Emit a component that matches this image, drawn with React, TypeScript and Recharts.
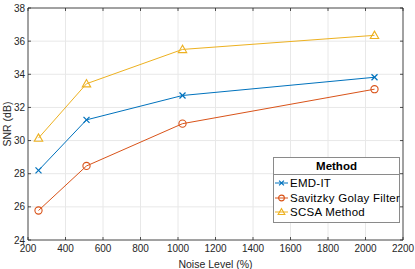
import React from "react";
import {
  LineChart,
  Line,
  XAxis,
  YAxis,
  CartesianGrid,
  ReferenceArea,
  Label,
} from "recharts";

// noise levels (%) and SNR (dB) per method
const noiseLevels = [256, 512, 1024, 2048];
const emdIt = [28.2, 31.25, 32.72, 33.82];
const savitzkyGolay = [25.78, 28.47, 31.02, 33.1];
const scsa = [30.15, 33.43, 35.5, 36.35];

const xTicks = [200, 400, 600, 800, 1000, 1200, 1400, 1600, 1800, 2000, 2200];
const yTicks = [24, 26, 28, 30, 32, 34, 36, 38];

const BLUE = "#0072BD";
const ORANGE = "#D95319";
const YELLOW = "#EDB120";
const AXIS = "#262626";
const FONT = "'Liberation Sans', Arial, Helvetica, sans-serif";

const PLOT_W = 375;
const PLOT_H = 232;

const data = noiseLevels.map((n, i) => ({
  noise: n,
  emd: emdIt[i],
  sg: savitzkyGolay[i],
  scsa: scsa[i],
}));

const series = [
  { key: "emd", name: "EMD-IT", color: BLUE, marker: "x" },
  { key: "sg", name: "Savitzky Golay Filter", color: ORANGE, marker: "o" },
  { key: "scsa", name: "SCSA Method", color: YELLOW, marker: "^" },
];

function Marker({ cx, cy, type, color, small }: any) {
  if (cx == null || cy == null) return null;
  const k = small ? 0.8 : 1;
  if (type === "x") {
    const s = 3 * k;
    return (
      <g stroke={color} strokeWidth={1.2}>
        <line x1={cx - s} y1={cy - s} x2={cx + s} y2={cy + s} />
        <line x1={cx - s} y1={cy + s} x2={cx + s} y2={cy - s} />
      </g>
    );
  }
  if (type === "o") {
    return <circle cx={cx} cy={cy} r={3.6 * k} fill="none" stroke={color} strokeWidth={1.1} />;
  }
  const s = 4.2 * k;
  return (
    <polygon
      points={`${cx},${cy - s} ${cx - s},${cy + s * 0.75} ${cx + s},${cy + s * 0.75}`}
      fill="none"
      stroke={color}
      strokeWidth={1.1}
    />
  );
}

function XTick({ x, y, payload }: any) {
  return (
    <g>
      <line x1={x} y1={y} x2={x} y2={y - 3} stroke={AXIS} strokeWidth={0.8} />
      <line x1={x} y1={y - PLOT_H} x2={x} y2={y - PLOT_H + 3} stroke={AXIS} strokeWidth={0.8} />
      <text x={x} y={y + 11.5} textAnchor="middle" fill={AXIS} fontSize={10} fontFamily={FONT}>
        {payload.value}
      </text>
    </g>
  );
}

function YTick({ x, y, payload }: any) {
  return (
    <g>
      <line x1={x} y1={y} x2={x + 3} y2={y} stroke={AXIS} strokeWidth={0.8} />
      <line x1={x + PLOT_W} y1={y} x2={x + PLOT_W - 3} y2={y} stroke={AXIS} strokeWidth={0.8} />
      <text x={x - 3} y={y + 3.5} textAnchor="end" fill={AXIS} fontSize={10} fontFamily={FONT}>
        {payload.value}
      </text>
    </g>
  );
}

function MethodLegend() {
  return (
    <div
      style={{
        position: "absolute",
        left: 273,
        top: 157,
        width: 127,
        background: "#fff",
        border: "1px solid #8a8a8a",
        fontFamily: FONT,
        color: "#000",
        boxSizing: "border-box",
      }}
    >
      <div
        style={{
          textAlign: "center",
          fontWeight: "bold",
          fontSize: 11.5,
          height: 16,
          lineHeight: "16px",
          borderBottom: "1px solid #8a8a8a",
        }}
      >
        Method
      </div>
      <div style={{ padding: "1px 0 2px 0" }}>
        {series.map((s) => (
          <div
            key={s.key}
            style={{ display: "flex", alignItems: "center", height: 14.5, fontSize: 11.5 }}
          >
            <svg width={14} height={12} style={{ marginLeft: 1, marginRight: 1, flexShrink: 0 }}>
              <line x1={0} y1={6} x2={13} y2={6} stroke={s.color} strokeWidth={1} />
              <Marker cx={6.5} cy={6} type={s.marker} color={s.color} small />
            </svg>
            <span style={{ whiteSpace: "nowrap", letterSpacing: 0.25 }}>{s.name}</span>
          </div>
        ))}
      </div>
    </div>
  );
}

export default function App() {
  return (
    <div style={{ position: "fixed", left: 0, top: 0, width: 415, height: 269, background: "#fff" }}>
      <LineChart
        width={415}
        height={269}
        data={data}
        margin={{ top: 8, right: 12, left: 0, bottom: 0 }}
      >
        <CartesianGrid stroke="#e8e8e8" strokeWidth={1} />
        <XAxis
          dataKey="noise"
          type="number"
          domain={[200, 2200]}
          ticks={xTicks}
          height={29}
          tickSize={0}
          tickMargin={0}
          tickLine={false}
          axisLine={false}
          tick={<XTick />}
          interval={0}
        >
          <Label
            value="Noise Level (%)"
            position="insideBottom"
            offset={1}
            style={{ fontSize: 10.5, fontFamily: FONT, fill: AXIS }}
          />
        </XAxis>
        <YAxis
          type="number"
          domain={[24, 38]}
          ticks={yTicks}
          width={28}
          tickSize={0}
          tickMargin={0}
          tickLine={false}
          axisLine={false}
          tick={<YTick />}
          interval={0}
        >
          <Label
            value="SNR (dB)"
            angle={-90}
            position="insideLeft"
            offset={7}
            style={{ fontSize: 10.5, fontFamily: FONT, fill: AXIS, textAnchor: "middle" }}
          />
        </YAxis>
        <ReferenceArea
          x1={200}
          x2={2200}
          y1={24}
          y2={38}
          fill="none"
          stroke={AXIS}
          strokeWidth={0.8}
          ifOverflow="visible"
        />
        {series.map((s) => (
          <Line
            key={s.key}
            dataKey={s.key}
            name={s.name}
            stroke={s.color}
            strokeWidth={1}
            isAnimationActive={false}
            dot={(p: any) => <Marker key={p.index} cx={p.cx} cy={p.cy} type={s.marker} color={s.color} />}
            activeDot={false}
          />
        ))}
      </LineChart>
      <MethodLegend />
    </div>
  );
}
